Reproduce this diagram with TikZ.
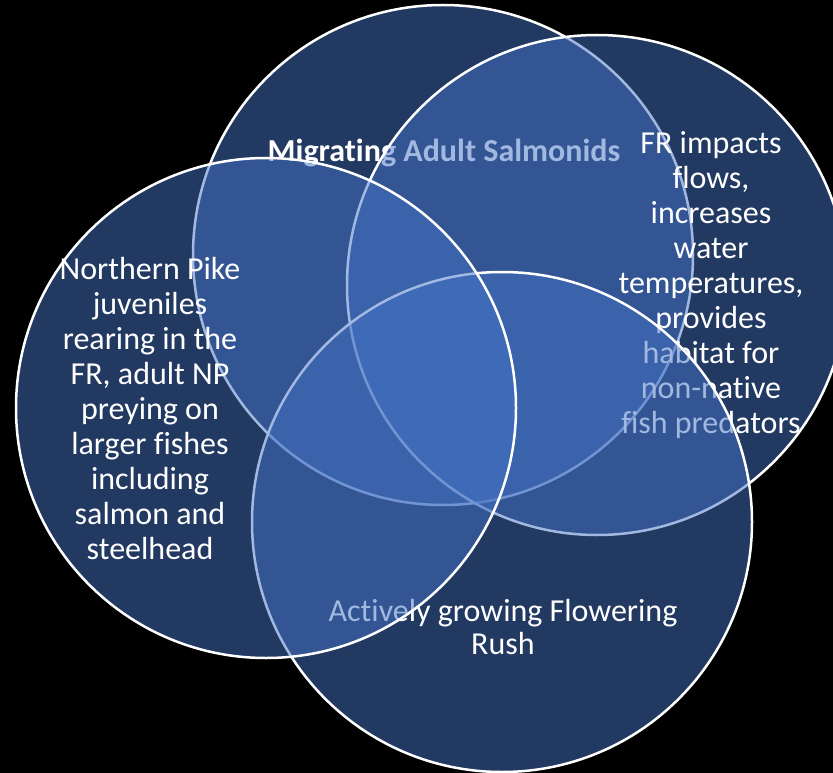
\documentclass[tikz,border=0pt]{standalone}
\usepackage{fontspec}
\setmainfont[Ligatures=NoCommon]{Carlito}
\definecolor{vblue}{HTML}{4472C4}
\begin{document}
\begin{tikzpicture}[x=1pt,y=-1pt,
  venn/.style={circle, minimum size=500pt, inner sep=0pt, fill=vblue, fill opacity=0.5, draw=white, draw opacity=1, line width=2.5pt},
  vtext/.style={text=white, text opacity=1, align=center, inner sep=0pt, font=\fontsize{32}{35}\selectfont}]
\fill[black] (0,0) rectangle (833,773);
\useasboundingbox (0,0) rectangle (833,773);
% top circle
\node[venn] (ctop) at (443,255) {};
\node[vtext, font=\bfseries\fontsize{32}{35}\selectfont] (ttop) at (444,153) {Migrating Adult Salmonids};
% right circle
\node[venn] (cright) at (597,285) {};
\node[vtext] (tright) at (711,285) {FR impacts\\flows,\\increases\\water\\temperatures,\\provides\\habitat for\\non-native\\fish predators};
% bottom circle
\node[venn] (cbottom) at (502,522) {};
\node[vtext, font=\fontsize{32}{33}\selectfont] (tbottom) at (503,627) {Actively growing Flowering\\Rush};
% left circle
\node[venn] (cleft) at (266,408) {};
\node[vtext] (tleft) at (150,409) {Northern Pike\\juveniles\\rearing in the\\FR, adult NP\\preying on\\larger fishes\\including\\salmon and\\steelhead};
\end{tikzpicture}
\end{document}
